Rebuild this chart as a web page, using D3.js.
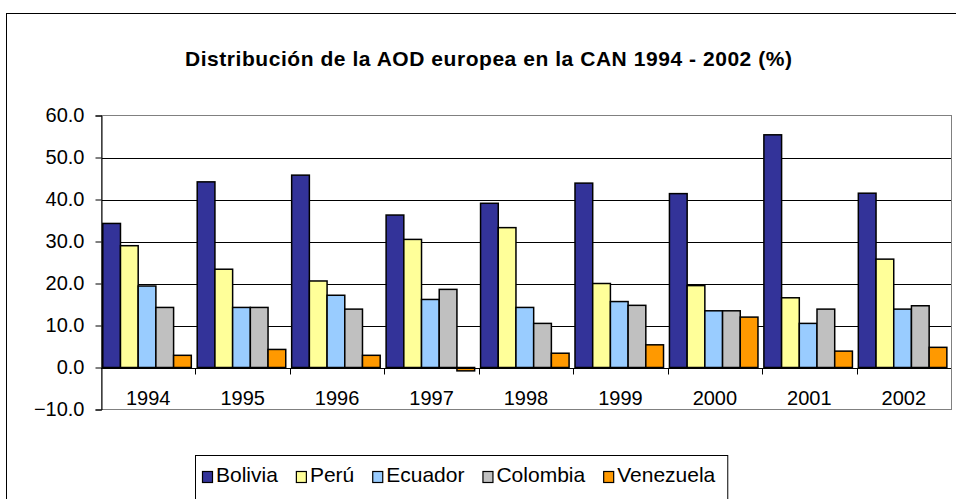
<!DOCTYPE html>
<html>
<head>
<meta charset="utf-8">
<script src="https://cdn.jsdelivr.net/npm/d3@7"></script>
<style>
body { margin: 0; background: #fff; }
text { font-family: "Liberation Sans", Arial, sans-serif; fill: #000; }
</style>
</head>
<body>
<svg width="956" height="499"></svg>
<script>
var years = ['1994', '1995', '1996', '1997', '1998', '1999', '2000', '2001', '2002'];
var series = ['Bolivia', 'Perú', 'Ecuador', 'Colombia', 'Venezuela'];
var bolivia = [34.3, 44.2, 45.8, 36.3, 39.1, 43.9, 41.4, 55.4, 41.5];
var peru = [29.0, 23.4, 20.6, 30.5, 33.3, 20.0, 19.5, 16.6, 25.8];
var ecuador = [19.4, 14.3, 17.2, 16.2, 14.3, 15.7, 13.5, 10.5, 13.9];
var colombia = [14.3, 14.3, 13.9, 18.6, 10.5, 14.8, 13.5, 13.9, 14.7];
var venezuela = [2.9, 4.3, 2.9, -0.8, 3.4, 5.4, 12.0, 3.9, 4.8];
var yTicks = [-10, 0, 10, 20, 30, 40, 50, 60];
var colors = ['#333399', '#ffff99', '#99ccff', '#c0c0c0', '#ff9900'];

var values = [bolivia, peru, ecuador, colombia, venezuela];
var font = '"Liberation Sans", Arial, sans-serif';

var svg = d3.select('svg');

// chart area border
svg.append('rect')
    .attr('x', 6.5)
    .attr('y', 13.5)
    .attr('width', 1000)
    .attr('height', 1000)
    .style('fill', 'white')
    .style('stroke', 'black');

// title
svg.append('text')
    .attr('x', 185)
    .attr('y', 66)
    .attr('textLength', 607)
    .attr('lengthAdjust', 'spacing')
    .style('font-size', '21px')
    .style('font-weight', 'bold')
    .text('Distribución de la AOD europea en la CAN 1994 - 2002 (%)');

var plotLeft = 101, plotRight = 951, plotTop = 115.5, plotBottom = 409.5;

var x0 = d3.scaleBand().domain(years).range([plotLeft, plotRight]);
var x1 = d3.scaleBand().domain(series).range([0, x0.bandwidth()])
    .paddingInner(0).paddingOuter(0.167).align(0.3);
var y = d3.scaleLinear().domain([-10, 60]).range([plotBottom, plotTop]);

// gridlines
svg.append('g').selectAll('line')
    .data(yTicks.filter(function(d) { return d > 0 && d < 60; }))
    .enter().append('line')
    .attr('x1', plotLeft)
    .attr('x2', plotRight)
    .attr('y1', function(d) { return Math.round(y(d)) + 0.5; })
    .attr('y2', function(d) { return Math.round(y(d)) + 0.5; })
    .style('stroke', 'black');

// plot border
svg.append('rect')
    .attr('x', plotLeft + 0.5)
    .attr('y', plotTop)
    .attr('width', plotRight - plotLeft)
    .attr('height', plotBottom - plotTop)
    .style('fill', 'none')
    .style('stroke', '#808080');

// bars
series.forEach(function(s, i) {
    svg.append('g').selectAll('rect')
        .data(values[i])
        .enter().append('rect')
        .attr('x', function(d, j) { return x0(years[j]) + x1(s); })
        .attr('width', x1.bandwidth())
        .attr('y', function(d) { return y(Math.max(0, d)); })
        .attr('height', function(d) { return Math.abs(y(d) - y(0)); })
        .style('fill', colors[i])
        .style('stroke', 'black')
        .style('stroke-width', 1.5);
});

// value axis
var yAxis = svg.append('g')
    .attr('transform', 'translate(' + (plotLeft + 0.5) + ',0)')
    .call(d3.axisLeft(y).tickValues(yTicks).tickSize(6).tickPadding(11)
        .tickFormat(d3.format('.1f')));
yAxis.select('.domain').style('stroke', 'black');
yAxis.selectAll('text')
    .style('font-size', '20px')
    .style('font-family', font);

// category axis at zero
var y0 = Math.round(y(0)) + 0.5;
svg.append('line')
    .attr('x1', plotLeft)
    .attr('x2', plotRight)
    .attr('y1', y0)
    .attr('y2', y0)
    .style('stroke', 'black');

svg.append('g').selectAll('line')
    .data(years.slice(1))
    .enter().append('line')
    .attr('x1', function(d) { return Math.round(x0(d)) + 0.5; })
    .attr('x2', function(d) { return Math.round(x0(d)) + 0.5; })
    .attr('y1', y0)
    .attr('y2', y0 + 6)
    .style('stroke', 'black');

svg.append('g').selectAll('text')
    .data(years)
    .enter().append('text')
    .attr('x', function(d) { return x0(d) + x0.bandwidth() / 2; })
    .attr('y', 405)
    .attr('text-anchor', 'middle')
    .style('font-size', '20px')
    .text(function(d) { return d; });

// legend
var legend = svg.append('g');
var lx = 202;
series.forEach(function(s, i) {
    legend.append('rect')
        .attr('x', lx + 0.5)
        .attr('y', 471.5)
        .attr('width', 10)
        .attr('height', 11)
        .style('fill', colors[i])
        .style('stroke', 'black')
        .style('stroke-width', 1.2);
    var t = legend.append('text')
        .attr('x', lx + 14)
        .attr('y', 482)
        .style('font-size', '21px')
        .text(s);
    lx = lx + 14 + t.node().getComputedTextLength() + (i < series.length - 1 ? 18 : 12);
});
legend.insert('rect', ':first-child')
    .attr('x', 195.5)
    .attr('y', 455.5)
    .attr('width', lx - 195)
    .attr('height', 60)
    .style('fill', 'white')
    .style('stroke', 'black');
</script>
</body>
</html>
